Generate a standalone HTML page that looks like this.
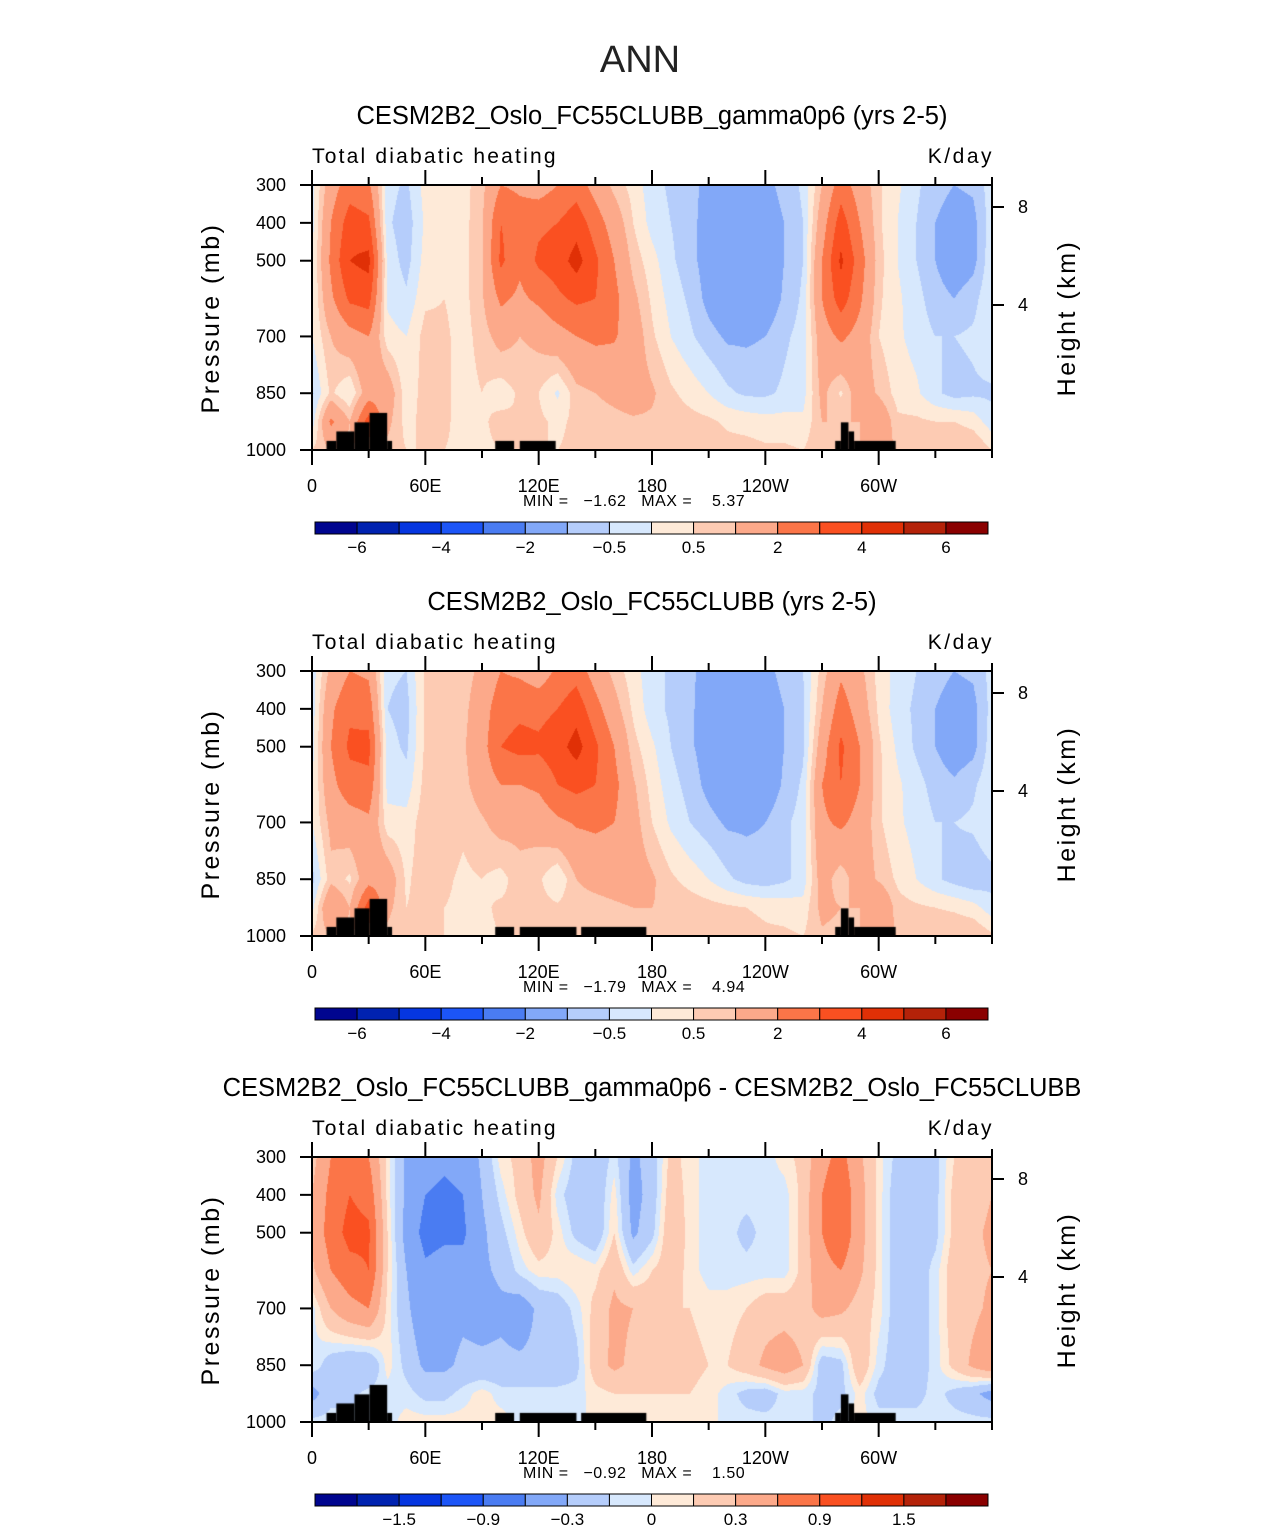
<!DOCTYPE html>
<html><head><meta charset="utf-8">
<style>
body{margin:0;background:#fff;width:1285px;height:1531px;position:relative;overflow:hidden;font-family:"Liberation Sans",sans-serif}
canvas{position:absolute}
svg{position:absolute;left:0;top:0}
</style></head>
<body>
<canvas id="c0" width="680" height="265" style="left:312px;top:185px"></canvas>
<canvas id="c1" width="680" height="265" style="left:312px;top:671px"></canvas>
<canvas id="c2" width="680" height="265" style="left:312px;top:1157px"></canvas>
<svg id="s" width="1285" height="1531"></svg>
<script>
const lons=[0,10,20,30,40,50,60,70,80,90,100,110,120,130,140,150,160,170,180,190,200,210,220,230,240,250,260,270,280,290,300,310,320,330,340,350,360];
const pLevels=[300,400,500,600,700,850,925,1000];
const field1=[
[-0.2,1.5,2.5,2.2,-0.3,-0.6,0.2,0.3,0.3,0.8,2.0,1.8,1.5,2.0,2.5,1.6,0.8,0.3,-0.3,-0.6,-0.8,-1.2,-1.3,-1.2,-1.2,-0.8,-0.4,1.0,2.5,1.5,0.6,0.1,-0.4,-0.8,-1.0,-0.9,-0.2],
[-0.2,2.0,3.5,3.2,-0.4,-0.8,0.1,0.3,0.3,0.9,3.0,2.5,2.8,3.0,3.6,2.5,1.5,0.5,-0.2,-0.5,-0.8,-1.3,-1.5,-1.5,-1.4,-1.0,-0.5,1.5,3.5,2.0,0.6,0.0,-0.5,-1.0,-1.3,-1.2,-0.2],
[-0.1,2.2,4.0,4.3,-0.2,-0.7,0.2,0.3,0.3,0.9,3.2,2.2,3.2,3.5,4.4,3.2,2.0,0.8,0.2,-0.4,-0.8,-1.3,-1.6,-1.6,-1.5,-1.0,-0.5,2.0,4.2,2.5,0.7,0.0,-0.5,-1.0,-1.4,-1.2,-0.1],
[-0.1,1.8,3.2,3.4,-0.1,-0.4,0.4,0.5,0.3,0.9,2.2,1.8,2.2,2.8,3.2,3.0,2.3,1.2,0.4,-0.2,-0.6,-1.2,-1.6,-1.7,-1.5,-0.9,-0.4,2.0,3.5,2.2,0.6,0.1,-0.3,-0.8,-1.0,-0.7,0.0],
[0.0,1.0,1.6,2.0,0.2,0.0,0.7,0.6,0.3,0.7,1.3,1.0,1.2,1.6,2.0,2.2,2.1,1.5,0.6,0.0,-0.4,-0.8,-1.1,-1.1,-1.0,-0.6,-0.3,1.5,2.2,1.6,0.5,0.1,-0.2,-0.5,-0.5,-0.4,0.0],
[-0.6,0.6,0.0,1.5,1.5,0.2,0.7,0.6,0.3,0.5,0.2,0.6,0.5,-0.1,0.8,1.0,1.2,1.4,1.1,0.6,0.3,0.0,-0.4,-0.6,-0.6,-0.4,-0.2,1.2,0.4,1.5,0.9,0.3,0.1,-0.4,-0.7,-0.6,-0.6],
[-0.3,2.2,1.0,3.5,1.2,0.3,0.7,0.6,0.3,0.4,0.7,0.5,0.6,0.4,0.6,0.7,0.8,0.9,0.9,0.8,0.7,0.6,0.4,0.3,0.2,0.2,0.1,1.0,1.0,1.0,1.8,0.6,0.6,0.5,0.5,0.3,-0.3],
[0.5,1.0,0.8,0.8,0.8,0.5,0.5,0.5,0.4,0.4,0.5,0.5,0.5,0.5,0.6,0.7,0.8,0.8,0.8,0.8,0.8,0.8,0.7,0.7,0.6,0.6,0.5,0.9,0.8,1.0,1.2,1.0,1.0,1.0,1.0,1.0,0.5]];
const field2=[
[-0.3,1.2,2.0,1.8,-0.4,-0.5,0.6,0.7,0.7,1.2,2.0,1.8,1.4,2.2,2.6,1.5,0.8,0.2,-0.3,-0.6,-0.9,-1.2,-1.3,-1.2,-1.2,-0.8,-0.5,0.7,1.8,1.2,0.3,-0.2,-0.5,-0.8,-1.0,-0.9,-0.3],
[-0.3,1.8,2.8,2.6,-0.5,-0.7,0.6,0.8,0.8,1.5,2.6,2.8,2.7,3.0,3.6,2.4,1.3,0.4,-0.3,-0.6,-0.9,-1.3,-1.5,-1.5,-1.4,-1.0,-0.6,1.0,2.5,1.5,0.4,-0.3,-0.6,-1.0,-1.3,-1.2,-0.3],
[-0.2,2.0,3.2,3.3,-0.3,-0.6,0.6,0.8,0.9,1.6,3.0,3.3,3.2,3.6,4.4,3.2,2.0,0.7,0.1,-0.5,-0.9,-1.3,-1.6,-1.6,-1.5,-1.0,-0.6,1.5,3.2,2.0,0.6,-0.1,-0.6,-1.0,-1.4,-1.2,-0.2],
[-0.1,1.7,2.6,2.7,-0.2,-0.3,0.7,0.8,0.8,1.4,2.0,2.0,2.2,3.0,3.3,3.0,2.3,1.1,0.3,-0.3,-0.7,-1.2,-1.6,-1.7,-1.5,-0.9,-0.4,2.0,3.0,2.0,0.6,0.1,-0.3,-0.7,-0.9,-0.6,-0.1],
[0.0,1.2,1.5,1.8,0.2,0.2,0.8,0.8,0.6,0.9,1.3,1.2,1.3,1.8,2.1,2.2,2.0,1.3,0.5,-0.1,-0.5,-0.8,-1.1,-1.1,-1.0,-0.6,-0.3,1.8,2.2,1.6,0.6,0.1,-0.2,-0.5,-0.5,-0.4,0.0],
[-0.7,0.8,0.4,1.6,1.5,0.4,0.8,0.6,0.4,0.5,0.3,0.8,0.6,0.0,1.0,1.2,1.3,1.4,1.1,0.6,0.3,0.0,-0.4,-0.7,-0.8,-0.6,-0.3,1.4,0.6,1.5,0.9,0.4,0.0,-0.4,-0.7,-0.9,-0.7],
[-0.2,2.0,1.0,3.5,1.2,0.5,0.7,0.5,0.4,0.4,0.6,0.6,0.7,0.6,0.8,0.8,0.9,1.0,1.0,0.9,0.8,0.7,0.6,0.5,0.4,0.3,0.2,1.2,1.0,1.0,2.0,0.7,0.6,0.5,0.4,0.2,-0.3],
[0.6,1.0,0.8,0.8,0.8,0.5,0.5,0.5,0.4,0.4,0.5,0.5,0.5,0.5,0.6,0.7,0.8,0.8,0.8,0.8,0.8,0.8,0.7,0.7,0.6,0.6,0.5,0.9,0.8,1.0,1.2,1.0,1.0,1.0,1.0,1.0,0.6]];
const fieldDiff=[
[0.2,0.6,0.7,0.6,0.05,-0.35,-0.5,-0.55,-0.5,-0.25,0.05,0.15,0.4,0.1,-0.15,-0.25,-0.05,-0.35,-0.2,0.15,0.05,-0.05,-0.05,-0.05,-0.05,0.05,0.15,0.5,0.7,0.35,0.05,-0.15,-0.2,-0.15,0.1,0.2,0.25],
[0.3,0.7,0.9,0.8,0.05,-0.35,-0.6,-0.65,-0.6,-0.3,-0.05,0.15,0.35,-0.05,-0.2,-0.25,0.05,-0.4,-0.2,0.2,0.05,-0.05,-0.05,-0.05,-0.05,-0.05,0.15,0.6,0.85,0.4,0.05,-0.2,-0.2,-0.15,0.15,0.2,0.3],
[0.35,0.75,1.0,0.95,0.1,-0.4,-0.7,-0.65,-0.65,-0.35,-0.15,0.05,0.25,0.05,-0.15,-0.25,0.1,-0.35,-0.15,0.25,0.05,-0.05,-0.05,-0.15,-0.05,-0.05,0.15,0.6,0.85,0.4,0.05,-0.2,-0.2,-0.15,0.15,0.25,0.35],
[0.25,0.6,0.8,0.9,0.1,-0.3,-0.55,-0.5,-0.5,-0.35,-0.25,-0.05,0.05,0.05,0.1,0.05,0.25,-0.05,0.1,0.2,0.05,-0.05,-0.05,-0.05,-0.05,-0.05,0.15,0.5,0.6,0.35,0.05,-0.2,-0.2,-0.05,0.2,0.25,0.3],
[-0.05,0.3,0.5,0.6,0.05,-0.25,-0.5,-0.4,-0.35,-0.4,-0.35,-0.45,-0.25,-0.2,-0.05,0.15,0.35,0.3,0.2,0.1,0.1,0.05,0.05,0.1,0.2,0.2,0.2,0.4,0.35,0.2,0.05,-0.2,-0.2,-0.05,0.2,0.25,0.35],
[0.0,-0.2,-0.3,-0.3,0.05,-0.15,-0.35,-0.35,-0.25,-0.25,-0.25,-0.25,-0.25,-0.25,-0.15,0.2,0.35,0.25,0.2,0.15,0.15,0.1,0.1,0.2,0.35,0.45,0.3,-0.2,-0.15,0.25,-0.05,-0.2,-0.2,-0.05,0.15,0.35,0.5],
[-0.4,-0.15,-0.15,-0.05,-0.05,-0.05,-0.15,-0.15,-0.05,0.05,-0.05,-0.05,-0.05,-0.05,-0.05,0.05,0.1,0.1,0.1,0.1,0.1,0.05,-0.05,-0.15,-0.2,-0.05,-0.05,-0.15,-0.15,0.05,-0.15,-0.15,-0.15,-0.05,-0.15,-0.25,-0.4],
[-0.05,-0.05,-0.05,-0.05,-0.05,0.05,0.05,0.05,0.05,0.05,0.05,-0.05,-0.05,-0.05,-0.05,0.05,0.05,0.05,0.05,0.05,0.05,0.05,-0.05,-0.05,-0.05,-0.05,-0.05,-0.15,-0.05,0.05,-0.05,-0.05,-0.05,-0.05,-0.05,-0.05,-0.05]];
const levelsAbs=[-6,-5,-4,-3,-2,-1,-0.5,0,0.5,1,2,3,4,5,6];
const levelsDiff=[-1.8,-1.5,-1.2,-0.9,-0.6,-0.3,-0.1,0,0.1,0.3,0.6,0.9,1.2,1.5,1.8];
const cbLabelsAbs=["−6","−4","−2","−0.5","0.5","2","4","6"];
const cbLabelsDiff=["−1.5","−0.9","−0.3","0","0.3","0.9","1.5"];
const colors=["#00058f","#0022b0","#0536e0","#1c55f7","#4a7cf2","#82a8f8","#b5cdfb","#d7e8fd","#feead8","#fdcbb3","#fca98a","#fb7548","#fa5021","#e03006","#b42209","#8a0000"];
const topo1=[[7.7,12.9,976],[12.9,22.5,951],[22.5,30.5,927],[30.5,39.8,902],[39.8,42.4,976],[97,107,976],[110,129,976],[277,280,976],[280,284,927],[284,287,951],[287,309,976]];
const topo2=[[7.7,12.9,976],[12.9,22.5,951],[22.5,30.5,927],[30.5,39.8,902],[39.8,42.4,976],[97,107,976],[110,140,976],[142.5,177,976],[277,280,976],[280,284,927],[284,287,951],[287,309,976]];
const panels=[
 {title:"CESM2B2_Oslo_FC55CLUBB_gamma0p6 (yrs 2-5)",data:field1,lev:levelsAbs,cb:cbLabelsAbs,cbIdx:[1,3,5,7,9,11,13,15],mn:"−1.62",mx:"5.37",topo:topo1},
 {title:"CESM2B2_Oslo_FC55CLUBB (yrs 2-5)",data:field2,lev:levelsAbs,cb:cbLabelsAbs,cbIdx:[1,3,5,7,9,11,13,15],mn:"−1.79",mx:"4.94",topo:topo2},
 {title:"CESM2B2_Oslo_FC55CLUBB_gamma0p6 - CESM2B2_Oslo_FC55CLUBB",data:fieldDiff,lev:levelsDiff,cb:cbLabelsDiff,cbIdx:[2,4,6,8,10,12,14],mn:"−0.92",mx:"1.50",topo:topo2}];
const W=680,H=265,X0=312;
const xOf=l=>X0+l/360*W;
const yOf=(p,t)=>t+(p-300)/700*H;
function hex(c){return [parseInt(c.substr(1,2),16),parseInt(c.substr(3,2),16),parseInt(c.substr(5,2),16)];}
const rgb=colors.map(hex);
function val(d,lon,p){
 let i=Math.min(35,Math.floor(lon/10)),fx=(lon-lons[i])/10;
 let j=0;while(j<6&&p>pLevels[j+1])j++;
 let fy=(p-pLevels[j])/(pLevels[j+1]-pLevels[j]);
 const a=d[j][i],b=d[j][i+1],c=d[j+1][i],e=d[j+1][i+1];
 return (a*(1-fx)+b*fx)*(1-fy)+(c*(1-fx)+e*fx)*fy;
}
panels.forEach((P,k)=>{
 const cv=document.getElementById('c'+k),ctx=cv.getContext('2d');
 const img=ctx.createImageData(W,H);
 for(let y=0;y<H;y++)for(let x=0;x<W;x++){
  const v=val(P.data,(x+0.5)/W*360,300+(y+0.5)/H*700);
  let ci=0;while(ci<15&&v>P.lev[ci]+1e-6)ci++;
  const c=rgb[ci],o=(y*W+x)*4;img.data[o]=c[0];img.data[o+1]=c[1];img.data[o+2]=c[2];img.data[o+3]=255;
 }
 ctx.putImageData(img,0,0);
 ctx.fillStyle='#000';
 P.topo.forEach(t=>{const x1=t[0]/360*W,x2=t[1]/360*W,y1=(t[2]-300)/700*H;ctx.fillRect(x1,y1,x2-x1,H-y1);});
});
const s=document.getElementById('s');
const NS="http://www.w3.org/2000/svg";
function el(tag,attrs,txt){const e=document.createElementNS(NS,tag);for(const a in attrs)e.setAttribute(a,attrs[a]);if(txt!==undefined)e.textContent=txt;s.appendChild(e);return e;}
let t=el('text',{x:640,y:72,'font-size':38,'text-anchor':'middle',fill:'#222','font-weight':'300'},'ANN');


const pLab=[300,400,500,700,850,1000];
const xLab=[[0,"0"],[60,"60E"],[120,"120E"],[180,"180"],[240,"120W"],[300,"60W"]];
panels.forEach((P,k)=>{
 const top=185+486*k;
 let e=el('text',{x:652,y:top-61,'font-size':25.5,'text-anchor':'middle'},P.title);
 
 
 e=el('text',{x:312,y:top-22,'font-size':21,'letter-spacing':'2.2'},'Total diabatic heating');
 
 
 e=el('text',{x:994,y:top-22,'font-size':21,'text-anchor':'end','letter-spacing':'2.5'},'K/day');
 
 
 e=el('rect',{x:312,y:top,width:W,height:H,fill:'none',stroke:'#000','stroke-width':2});
 
 
 pLab.forEach(p=>{const y=yOf(p,top);el('line',{x1:300,x2:312,y1:y,y2:y,stroke:'#000','stroke-width':2});
  e=el('text',{x:286,y:y+6,'font-size':18,'text-anchor':'end'},String(p));
  
  });
 for(let l=0;l<=360;l+=30){const x=xOf(l),maj=l%60==0&&l<360;const L=maj?15:8;
  el('line',{x1:x,x2:x,y1:top+H,y2:top+H+L,stroke:'#000','stroke-width':2});
  el('line',{x1:x,x2:x,y1:top,y2:top-L,stroke:'#000','stroke-width':2});}
 xLab.forEach(a=>{e=el('text',{x:xOf(a[0]),y:top+H+42,'font-size':18,'text-anchor':'middle'},a[1]);
  
  });
 [[8,22],[4,120]].forEach(h=>{const y=top+h[1];el('line',{x1:992,x2:1004,y1:y,y2:y,stroke:'#000','stroke-width':2});
  e=el('text',{x:1018,y:y+6,'font-size':18},String(h[0]));
  
  });
 e=el('text',{x:0,y:0,'font-size':25,'text-anchor':'middle','letter-spacing':'2.5',transform:`translate(219,${top+133}) rotate(-90)`},'Pressure (mb)');
 
 
 e=el('text',{x:0,y:0,'font-size':25,'text-anchor':'middle','letter-spacing':'2.5',transform:`translate(1075,${top+133}) rotate(-90)`},'Height (km)');
 
 
 e=el('text',{x:523,y:top+321,'font-size':16,'letter-spacing':'0.5',style:'white-space:pre'},'MIN =   '+P.mn+'   MAX =    '+P.mx);
 
 
 const cy=top+337,bw=673/16;
 for(let i=0;i<16;i++){e=el('rect',{x:315+i*bw,y:cy,width:bw,height:12,fill:colors[i],stroke:'#000','stroke-width':1});
  
  }
 P.cb.forEach((lb,i)=>{e=el('text',{x:315+P.cbIdx[i]*bw,y:cy+31,'font-size':17,'text-anchor':'middle'},lb);
  
  });
});
</script>
</body></html>
